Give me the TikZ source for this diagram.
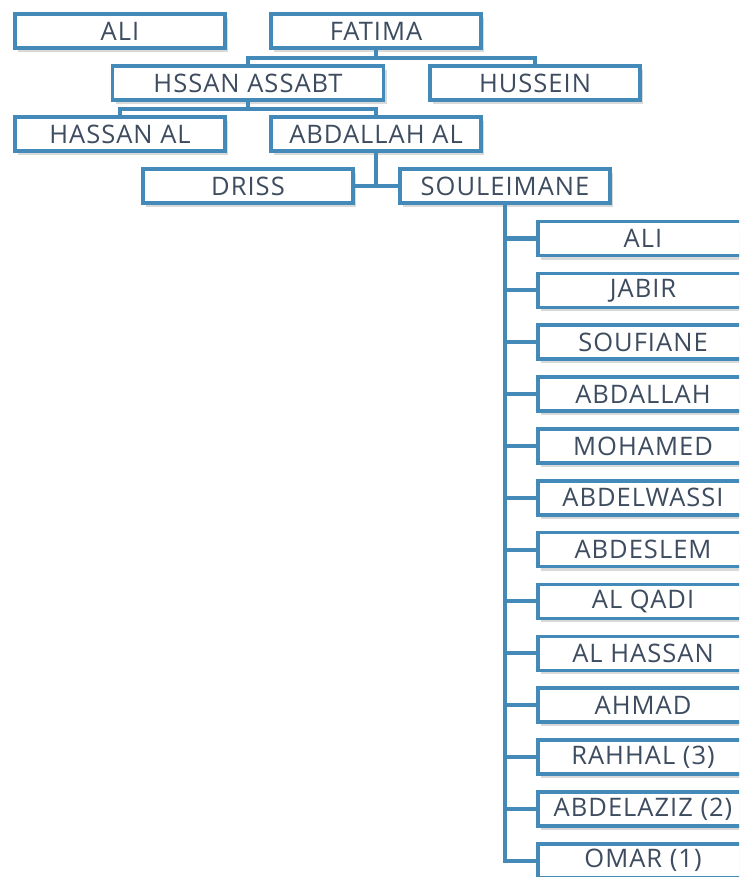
\documentclass[tikz,border=0pt]{standalone}
\usepackage{fontspec}
\setmainfont{Open Sans}[LetterSpace=4]
\usetikzlibrary{positioning,shadows}
\definecolor{boxblue}{RGB}{68,138,184}
\definecolor{namegray}{RGB}{62,76,96}

\begin{document}
\begin{tikzpicture}[x=1pt,y=-1pt]
  \tikzset{
    person/.style={draw=boxblue, line width=3.6pt, fill=white,
      minimum width=210pt, minimum height=34pt, inner sep=0pt,
      text=namegray, font=\fontsize{25.5}{30}\selectfont,
      drop shadow={shadow xshift=3pt, shadow yshift=-4pt, opacity=0.3}},
    link/.style={draw=boxblue, line width=4pt},
  }
  \useasboundingbox (0,0) rectangle (739,877);
  \clip (0,0) rectangle (739,877);

  % first generations
  \node[person] (ali) at (120,31) {ALI};
  \node[person] (fatima) at (376,31) {FATIMA};
  \node[person, minimum width=271pt] (hssan) at (248,83) {HSSAN ASSABT};
  \node[person] (hussein) at (535,83) {HUSSEIN};
  \node[person] (hassan) at (120,134) {HASSAN AL};
  \node[person] (abdallah) at (376,134) {ABDALLAH AL};
  \node[person] (driss) at (248,186) {DRISS};
  \node[person] (souleimane) at (505,186) {SOULEIMANE};

  \draw[link] (fatima.south) -- ++(0,8) -| (hssan.north);
  \draw[link] (fatima.south) -- ++(0,8) -| (hussein.north);
  \draw[link] (hssan.south) -- ++(0,7) -| (hassan.north);
  \draw[link] (hssan.south) -- ++(0,7) -| (abdallah.north);
  \draw[link] (abdallah.south) |- (driss.east);
  \draw[link] (abdallah.south) |- (souleimane.west);

  % sons of souleimane
  \foreach \name [count=\i from 0] in {ALI, JABIR, SOUFIANE, ABDALLAH,
      MOHAMED, ABDELWASSI, ABDESLEM, AL QADI, AL HASSAN, AHMAD,
      RAHHAL (3), ABDELAZIZ (2), OMAR (1)} {
    \node[person] (son\i) at (643,238.5+51.85*\i) {\name};
    \draw[link] (souleimane.south) |- (son\i.west);
  }
\end{tikzpicture}
\end{document}
